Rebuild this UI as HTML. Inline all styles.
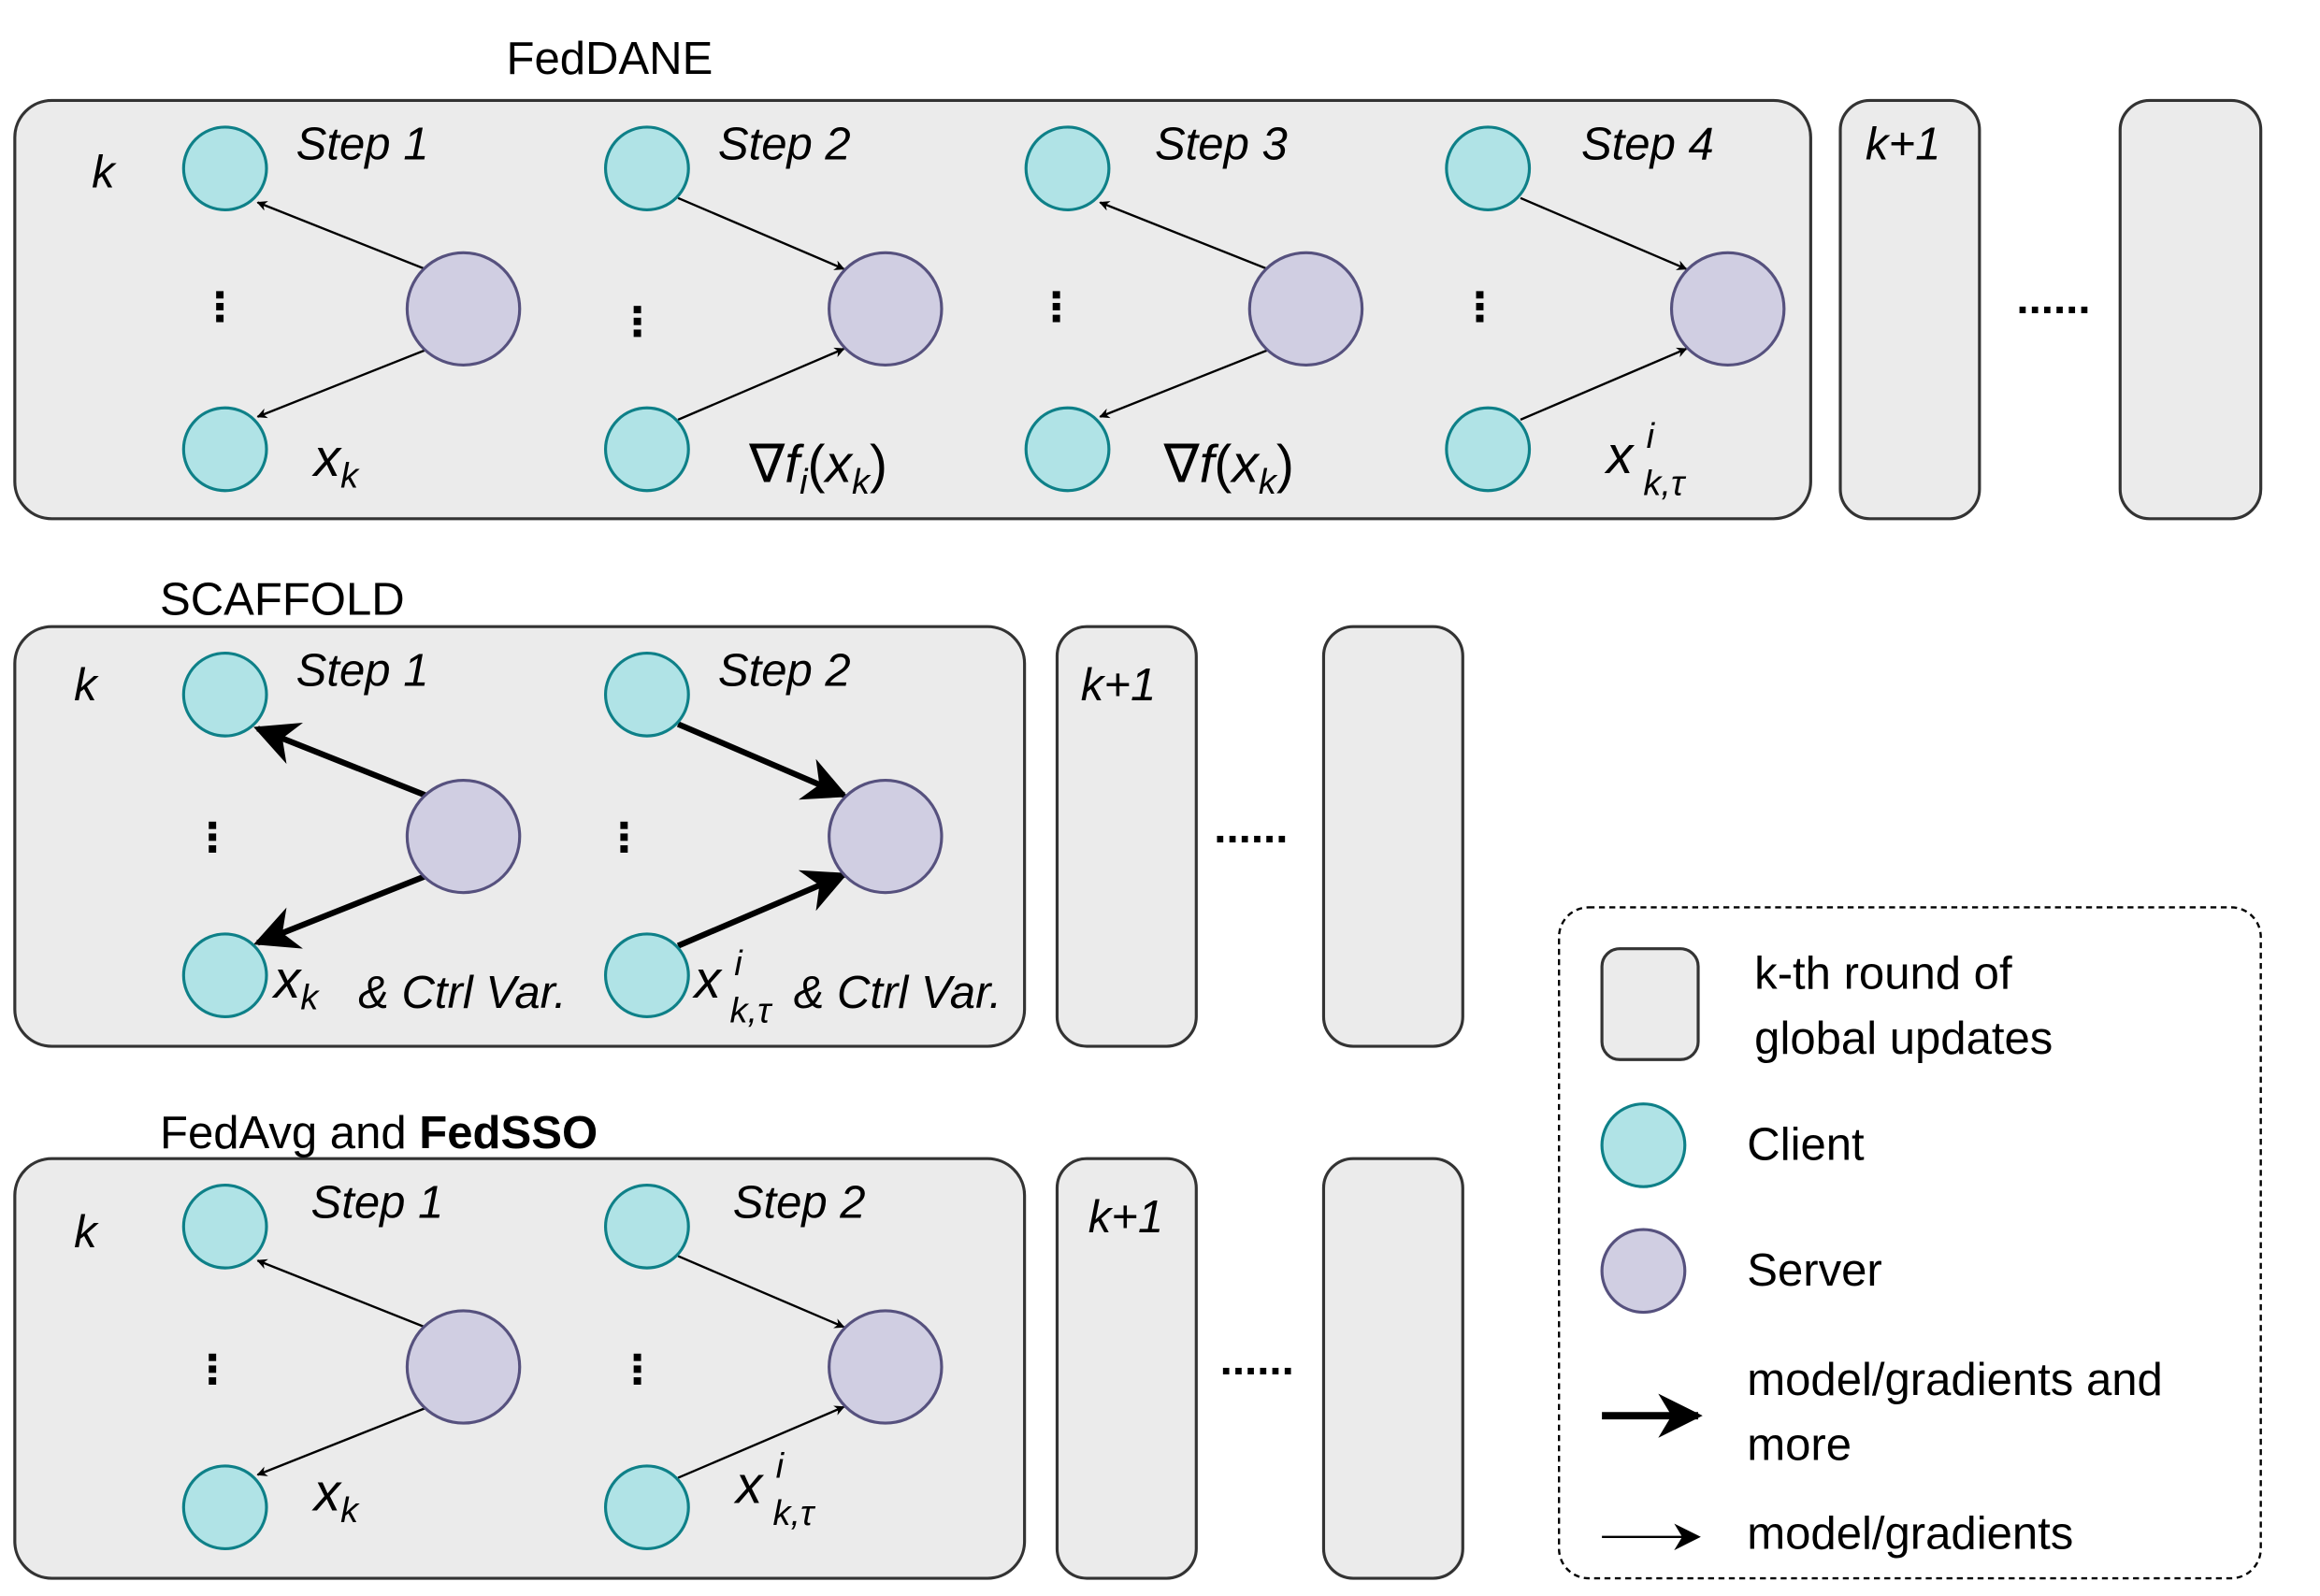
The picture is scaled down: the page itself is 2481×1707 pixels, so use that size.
<!DOCTYPE html>
<html><head><meta charset="utf-8"><style>
html,body{margin:0;padding:0;background:#fff;}
svg{display:block;}
text{font-family:"Liberation Sans",sans-serif;fill:#000;}
.st{font-style:italic;font-size:31px;}
.m{font-family:"Liberation Serif",serif;font-style:italic;}
.lg{font-size:31px;}
</style></head><body>
<svg width="2481" height="1707" viewBox="0 0 1567 1080" preserveAspectRatio="none" xmlns="http://www.w3.org/2000/svg">
<defs>
<marker id="a" viewBox="0 0 10 10" refX="9" refY="5" markerWidth="7" markerHeight="7" orient="auto" markerUnits="userSpaceOnUse"><path d="M0,0 L10,5 L0,10 L3,5 z" fill="#000"/></marker>
<marker id="ab" viewBox="0 0 10 10" refX="9" refY="5" markerWidth="30" markerHeight="30" orient="auto" markerUnits="userSpaceOnUse"><path d="M0,0 L10,5 L0,10 L3,5 z" fill="#000"/></marker>
<marker id="at" viewBox="0 0 10 10" refX="9" refY="5" markerWidth="18" markerHeight="18" orient="auto" markerUnits="userSpaceOnUse"><path d="M0,0 L10,5 L0,10 L3,5 z" fill="#000"/></marker>
</defs>
<g fill="#ebebeb" stroke="#333" stroke-width="2">
<rect x="10" y="68" width="1213" height="283" rx="25"/>
<rect x="1243" y="68" width="94" height="283" rx="20"/>
<rect x="1432" y="68" width="95" height="283" rx="20"/>
<rect x="10" y="424" width="682" height="284" rx="25"/>
<rect x="714" y="424" width="94" height="284" rx="20"/>
<rect x="894" y="424" width="94" height="284" rx="20"/>
<rect x="10" y="784" width="682" height="284" rx="25"/>
<rect x="714" y="784" width="94" height="284" rx="20"/>
<rect x="894" y="784" width="94" height="284" rx="20"/>
</g>
<text x="342" y="50" font-size="31">FedDANE</text>
<text x="108" y="416" font-size="31">SCAFFOLD</text>
<text x="108" y="777" font-size="31">FedAvg and <tspan font-weight="bold">FedSSO</tspan></text>
<g class="st">
<text x="62" y="127">k</text>
<text x="200" y="108">Step 1</text><text x="485" y="108">Step 2</text><text x="780" y="108">Step 3</text><text x="1068" y="108">Step 4</text>
<text x="1260" y="108">k+1</text>
<text x="50" y="474">k</text>
<text x="200" y="464">Step 1</text><text x="485" y="464">Step 2</text>
<text x="730" y="474">k+1</text>
<text x="50" y="844">k</text>
<text x="210" y="824">Step 1</text><text x="495" y="824">Step 2</text>
<text x="735" y="834">k+1</text>
</g>
<g font-size="30" font-weight="bold">
<text x="1362" y="212">......</text><text x="820" y="570">......</text><text x="824" y="930">......</text>
</g>
<g fill="#000">
<rect x="146" y="197" width="5" height="5"/><rect x="146" y="205" width="5" height="5"/><rect x="146" y="213" width="5" height="5"/>
<rect x="428" y="207" width="5" height="5"/><rect x="428" y="215" width="5" height="5"/><rect x="428" y="223" width="5" height="5"/>
<rect x="711" y="197" width="5" height="5"/><rect x="711" y="205" width="5" height="5"/><rect x="711" y="213" width="5" height="5"/>
<rect x="997" y="197" width="5" height="5"/><rect x="997" y="205" width="5" height="5"/><rect x="997" y="213" width="5" height="5"/>
<rect x="141" y="556" width="5" height="5"/><rect x="141" y="564" width="5" height="5"/><rect x="141" y="572" width="5" height="5"/>
<rect x="419" y="556" width="5" height="5"/><rect x="419" y="564" width="5" height="5"/><rect x="419" y="572" width="5" height="5"/>
<rect x="141" y="916" width="5" height="5"/><rect x="141" y="924" width="5" height="5"/><rect x="141" y="932" width="5" height="5"/>
<rect x="428" y="916" width="5" height="5"/><rect x="428" y="924" width="5" height="5"/><rect x="428" y="932" width="5" height="5"/>
</g>
<g stroke="#000" stroke-width="1.5" fill="none" marker-end="url(#a)">
<line x1="287" y1="182" x2="174" y2="137"/><line x1="287" y1="237" x2="174" y2="282"/>
<line x1="458" y1="134" x2="570" y2="182"/><line x1="458" y1="284" x2="570" y2="236"/>
<line x1="856" y1="182" x2="743" y2="137"/><line x1="856" y1="237" x2="743" y2="282"/>
<line x1="1027" y1="134" x2="1139" y2="182"/><line x1="1027" y1="284" x2="1139" y2="236"/>
<line x1="287" y1="898" x2="174" y2="853"/><line x1="287" y1="953" x2="174" y2="998"/>
<line x1="458" y1="850" x2="570" y2="898"/><line x1="458" y1="1000" x2="570" y2="952"/>
</g>
<g stroke="#000" stroke-width="4" fill="none" marker-end="url(#ab)">
<line x1="287" y1="538" x2="174" y2="493"/><line x1="287" y1="593" x2="174" y2="638"/>
<line x1="458" y1="490" x2="570" y2="538"/><line x1="458" y1="640" x2="570" y2="592"/>
</g>
<g fill="#b0e3e6" stroke="#0e8088" stroke-width="2">
<circle cx="152" cy="114" r="28"/><circle cx="152" cy="304" r="28"/>
<circle cx="437" cy="114" r="28"/><circle cx="437" cy="304" r="28"/>
<circle cx="721" cy="114" r="28"/><circle cx="721" cy="304" r="28"/>
<circle cx="1005" cy="114" r="28"/><circle cx="1005" cy="304" r="28"/>
<circle cx="152" cy="470" r="28"/><circle cx="152" cy="660" r="28"/>
<circle cx="437" cy="470" r="28"/><circle cx="437" cy="660" r="28"/>
<circle cx="152" cy="830" r="28"/><circle cx="152" cy="1020" r="28"/>
<circle cx="437" cy="830" r="28"/><circle cx="437" cy="1020" r="28"/>
<circle cx="1110" cy="775" r="28"/>
</g>
<g fill="#d0cee2" stroke="#56517e" stroke-width="2">
<circle cx="313" cy="209" r="38"/><circle cx="598" cy="209" r="38"/><circle cx="882" cy="209" r="38"/><circle cx="1167" cy="209" r="38"/>
<circle cx="313" cy="566" r="38"/><circle cx="598" cy="566" r="38"/>
<circle cx="313" cy="925" r="38"/><circle cx="598" cy="925" r="38"/>
<circle cx="1110" cy="860" r="28"/>
</g>
<g class="m" font-size="36">
<text x="212" y="322">x<tspan font-size="24" dy="8">k</tspan></text>
<text x="506" y="326" font-style="normal">∇<tspan font-style="italic">f</tspan><tspan font-size="24" dy="8" font-style="italic">i</tspan><tspan dy="-8">(</tspan><tspan font-style="italic">x</tspan><tspan font-size="24" dy="8" font-style="italic">k</tspan><tspan dy="-8">)</tspan></text>
<text x="786" y="326" font-style="normal">∇<tspan font-style="italic">f</tspan>(<tspan font-style="italic">x</tspan><tspan font-size="24" dy="8" font-style="italic">k</tspan><tspan dy="-8">)</tspan></text>
<text x="1085" y="320">x</text><text x="1112" y="303" font-size="24">i</text><text x="1110" y="335" font-size="24">k,τ</text>
<text x="212" y="1022">x<tspan font-size="24" dy="8">k</tspan></text>
<text x="497" y="1017">x</text><text x="524" y="1000" font-size="24">i</text><text x="522" y="1032" font-size="24">k,τ</text>
<text x="185" y="675">x<tspan font-size="24" dy="8">k</tspan></text>
<text x="469" y="675">x</text><text x="496" y="660" font-size="24">i</text><text x="493" y="692" font-size="24">k,τ</text>
</g>
<text x="242" y="682" class="st">&amp; Ctrl Var.</text>
<text x="536" y="682" class="st">&amp; Ctrl Var.</text>
<rect x="1053" y="614" width="474" height="454" rx="20" fill="none" stroke="#000" stroke-width="1.5" stroke-dasharray="4,3"/>
<rect x="1082" y="642" width="65" height="75" rx="12" fill="#ebebeb" stroke="#333" stroke-width="2"/>
<g class="lg">
<text x="1185" y="669">k-th round of</text>
<text x="1185" y="713">global updates</text>
<text x="1180" y="785">Client</text>
<text x="1180" y="870">Server</text>
<text x="1180" y="944">model/gradients and</text>
<text x="1180" y="988">more</text>
<text x="1180" y="1048">model/gradients</text>
</g>
<line x1="1082" y1="958" x2="1147" y2="958" stroke="#000" stroke-width="5" marker-end="url(#ab)"/>
<line x1="1082" y1="1040" x2="1147" y2="1040" stroke="#000" stroke-width="1.5" marker-end="url(#at)"/>
</svg>
</body></html>
